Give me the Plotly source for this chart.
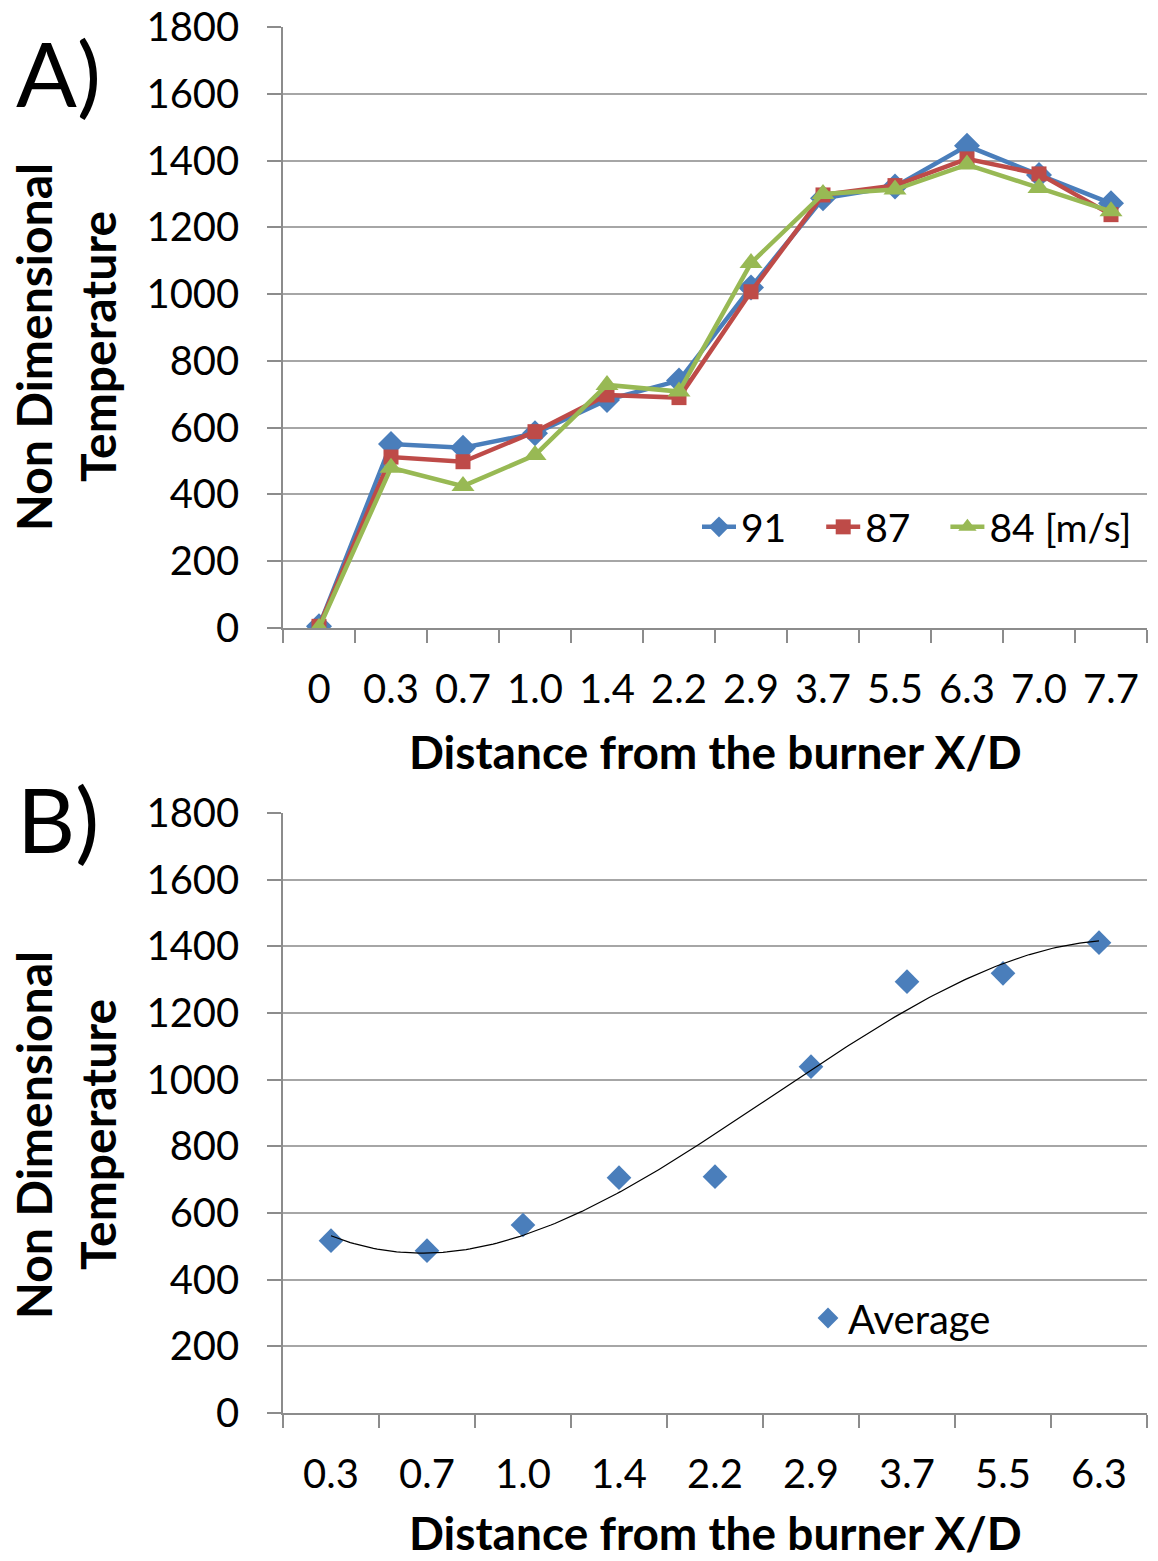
import numpy as np
import plotly.graph_objects as go

# ---- data ----
cats_a = ["0", "0.3", "0.7", "1.0", "1.4", "2.2", "2.9", "3.7", "5.5", "6.3", "7.0", "7.7"]
v91 = [5, 551, 540, 583, 683, 741, 1020, 1287, 1322, 1444, 1357, 1272]
v87 = [5, 512, 498, 588, 698, 690, 1007, 1297, 1325, 1405, 1360, 1238]
v84 = [0, 480, 425, 518, 728, 708, 1093, 1300, 1313, 1388, 1318, 1248]
series_names = ["91", "87", "84 [m/s]"]

cats_b = ["0.3", "0.7", "1.0", "1.4", "2.2", "2.9", "3.7", "5.5", "6.3"]
avg = [517, 487, 564, 706, 709, 1039, 1294, 1319, 1411]

y_ticks = [0, 200, 400, 600, 800, 1000, 1200, 1400, 1600, 1800]

W, H = 1158, 1561
FONT = "Lato"
BLUE, RED, GREEN = "#4A7EBB", "#BE4B48", "#98B954"
GRID = "#A6A6A6"
NB = "\u00a0"

fig = go.Figure()

for i, (vals, col, sym, sz) in enumerate([
    (v91, BLUE, "diamond", 20),
    (v87, RED, "square", 15),
    (v84, GREEN, "triangle-up", 20),
]):
    label = series_names[i] + (NB * 3 if i < 2 else "")
    fig.add_trace(go.Scatter(
        x=cats_a, y=vals, name=label, mode="lines+markers",
        line=dict(color=col, width=4.5),
        marker=dict(symbol=sym, size=sz, color=col),
        xaxis="x", yaxis="y", legend="legend",
    ))

fig.add_trace(go.Scatter(
    x=cats_b, y=avg, name="Average", mode="markers",
    marker=dict(symbol="diamond", size=19, color=BLUE),
    xaxis="x2", yaxis="y2", legend="legend2",
))

# polynomial trendline (order 3) through the averages
idx = np.arange(len(cats_b))
coef = np.polyfit(idx, avg, 3)
xf = np.linspace(0, len(cats_b) - 1, 200)
yf = np.polyval(coef, xf)
fig.add_trace(go.Scatter(
    x=xf, y=yf, mode="lines", line=dict(color="black", width=1.2),
    showlegend=False, xaxis="x3", yaxis="y2", hoverinfo="skip",
))

xdom = [283 / W, 1147 / W]
ya = [1 - 628 / H, 1 - 27 / H]
yb = [1 - 1413 / H, 1 - 813 / H]

tickfont = dict(family=FONT, size=40, color="black")
common_x = dict(
    type="category", showgrid=False, showline=True, linecolor="#8C8C8C", linewidth=1.5,
    ticks="outside", ticklen=13, tickcolor="#8C8C8C", tickwidth=1.5, tickson="boundaries",
    tickfont=tickfont, ticklabelstandoff=25, zeroline=False, fixedrange=True, automargin=False,
)
common_y = dict(
    range=[0, 1800], tickvals=y_ticks, showgrid=True, gridcolor=GRID, gridwidth=1.5,
    showline=True, linecolor="#8C8C8C", linewidth=1.5, ticks="outside", ticklen=14,
    tickcolor="#8C8C8C", tickwidth=1.5, tickfont=tickfont, ticklabelstandoff=20,
    zeroline=False, fixedrange=True, automargin=False,
)

fig.update_layout(
    width=W, height=H, margin=dict(l=0, r=0, t=0, b=0, autoexpand=False),
    paper_bgcolor="white", plot_bgcolor="white",
    font=dict(family=FONT, color="black"),
    xaxis=dict(domain=xdom, anchor="y", range=[-0.5, len(cats_a) - 0.5], **common_x),
    yaxis=dict(domain=ya, anchor="x", **common_y),
    xaxis2=dict(domain=xdom, anchor="y2", range=[-0.5, len(cats_b) - 0.5], **common_x),
    yaxis2=dict(domain=yb, anchor="x2", **common_y),
    xaxis3=dict(domain=xdom, anchor="y2", overlaying="x2", range=[-0.5, len(cats_b) - 0.5],
                visible=False, fixedrange=True),
    legend=dict(orientation="h", x=697 / W, y=1 - 527 / H, xanchor="left", yanchor="middle",
                font=dict(family=FONT, size=39, color="black"), bgcolor="rgba(0,0,0,0)",
                itemwidth=34, tracegroupgap=0),
    legend2=dict(orientation="h", x=808 / W, y=1 - 1318 / H, xanchor="left", yanchor="middle",
                 font=dict(family=FONT, size=40, color="black"), bgcolor="rgba(0,0,0,0)",
                 itemwidth=30),
    showlegend=True,
)

ytitle = dict(family=FONT, size=48, color="black")
xtitle = dict(family=FONT, size=46, color="black")
annotations = []
for yc, xlab in [(347, 752), (1135, 1532)]:
    annotations.append(dict(text="<b>Non Dimensional</b>", x=33 / W, y=1 - yc / H, xref="paper", yref="paper",
                            textangle=-90, showarrow=False, font=ytitle, xanchor="center", yanchor="middle"))
    annotations.append(dict(text="<b>Temperature</b>", x=97 / W, y=1 - yc / H, xref="paper", yref="paper",
                            textangle=-90, showarrow=False, font=ytitle, xanchor="center", yanchor="middle"))
    annotations.append(dict(text="<b>Distance from the burner X/D</b>", x=715 / W, y=1 - xlab / H,
                            xref="paper", yref="paper", showarrow=False, font=xtitle,
                            xanchor="center", yanchor="middle"))
annotations.append(dict(text="A)", x=58 / W, y=1 - 72 / H, xref="paper", yref="paper", showarrow=False,
                        font=dict(family=FONT, size=90, color="black"), xanchor="center", yanchor="middle"))
annotations.append(dict(text="B)", x=58 / W, y=1 - 818 / H, xref="paper", yref="paper", showarrow=False,
                        font=dict(family=FONT, size=90, color="black"), xanchor="center", yanchor="middle"))
fig.update_layout(annotations=annotations)

fig.write_html("out.html")
